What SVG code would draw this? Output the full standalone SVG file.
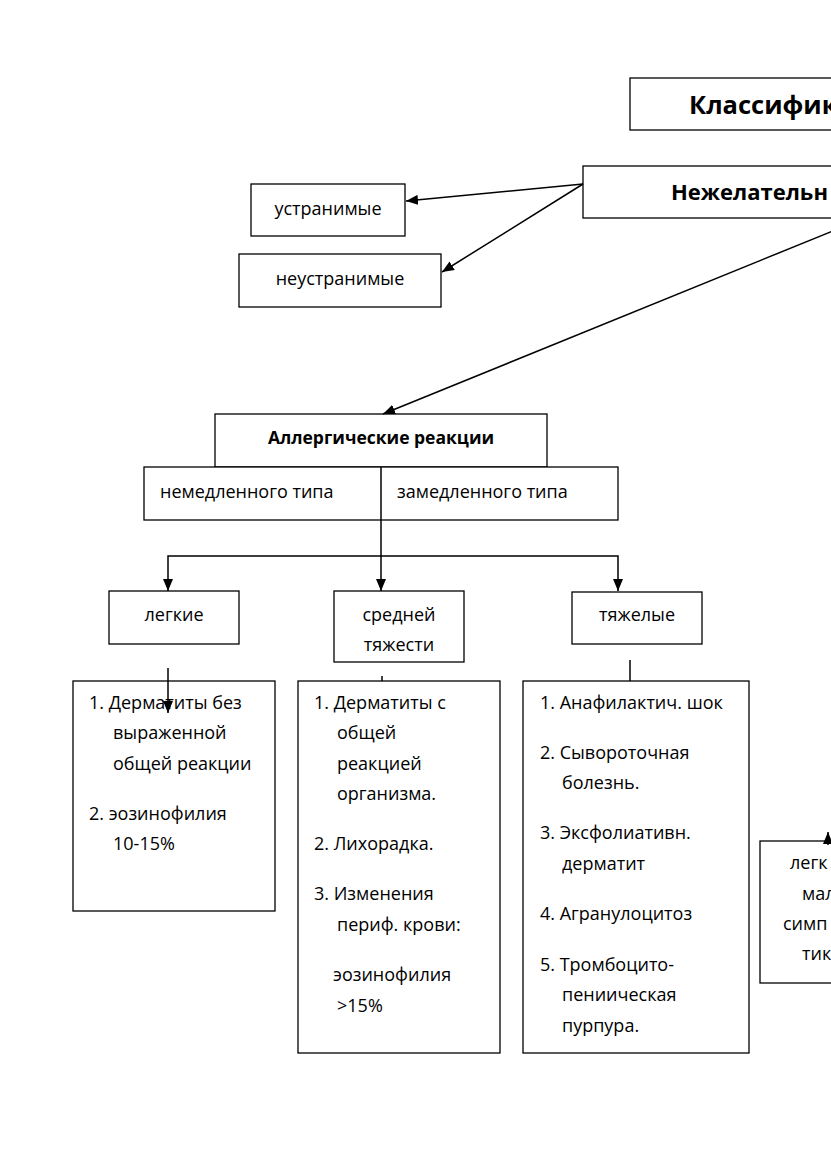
<svg xmlns="http://www.w3.org/2000/svg" width="831" height="1174" viewBox="0 0 831 1174">
<defs>
<marker id="ah" markerWidth="12" markerHeight="10" refX="12" refY="5" orient="auto" markerUnits="userSpaceOnUse">
<path d="M0,0 L12,5 L0,10 Z" fill="#000"/>
</marker>
<style>
rect{fill:#fff;stroke:#000;stroke-width:1.3}
text{font-family:"Open Sans","Noto Sans","Liberation Sans",sans-serif;font-size:18px;fill:#000}
.b{font-weight:bold}
.c{text-anchor:middle}
.cn line,.cn path{stroke:#000;stroke-width:1.5;fill:none}
</style>
</defs>
<rect width="831" height="1174" fill="#fff" style="stroke:none"/>
<g id="title"><rect x="630" y="78" width="400" height="52"/><text class="b" x="689" y="114" style="font-size:25.5px">Классифик</text></g>
<g id="nezh"><rect x="583" y="166" width="400" height="52"/><text class="b" x="671" y="200" style="font-size:22px">Нежелательн</text></g>
<g id="ustr"><rect x="251" y="184" width="154" height="52"/><text class="c" x="328" y="215">устранимые</text></g>
<g id="neustr"><rect x="239" y="254" width="202" height="53"/><text class="c" x="340" y="285">неустранимые</text></g>
<g id="allerg"><rect x="215" y="414" width="332" height="53"/><text class="b c" x="381" y="444" style="font-size:17.5px">Аллергические реакции</text></g>
<g id="types"><rect x="144" y="467" width="474" height="53"/><text x="160" y="498">немедленного типа</text><text x="397" y="498">замедленного типа</text></g>
<g id="legk"><rect x="109" y="591" width="130" height="53"/><text class="c" x="174" y="621">легкие</text></g>
<g id="sred"><rect x="334" y="591" width="130" height="71"/><text class="c" x="399" y="621">средней</text><text class="c" x="399" y="651">тяжести</text></g>
<g id="tyazh"><rect x="572" y="592" width="130" height="52"/><text class="c" x="637" y="621">тяжелые</text></g>
<g id="list1"><rect x="73" y="681" width="202" height="230"/>
<text x="89" y="709">1. Дерматиты без</text><text x="113" y="739">выраженной</text><text x="113" y="770">общей реакции</text>
<text x="89" y="820">2. эозинофилия</text><text x="113" y="850">10-15%</text></g>
<g id="list2"><rect x="298" y="681" width="202" height="372"/>
<text x="314" y="709">1. Дерматиты с</text><text x="337" y="739">общей</text><text x="337" y="770">реакцией</text><text x="337" y="800">организма.</text>
<text x="314" y="850">2. Лихорадка.</text>
<text x="314" y="900">3. Изменения</text><text x="337" y="931">периф. крови:</text>
<text x="333" y="981">эозинофилия</text><text x="337" y="1012">&gt;15%</text></g>
<g id="list3"><rect x="523" y="681" width="226" height="372"/>
<text x="540" y="709">1. Анафилактич. шок</text>
<text x="540" y="759">2. Сывороточная</text><text x="562" y="789">болезнь.</text>
<text x="540" y="839">3. Эксфолиативн.</text><text x="562" y="870">дерматит</text>
<text x="540" y="920">4. Агранулоцитоз</text>
<text x="540" y="971">5. Тромбоцито-</text><text x="562" y="1001">пениическая</text><text x="562" y="1032">пурпура.</text></g>
<g id="right"><rect x="760" y="841" width="200" height="142"/>
<text x="790" y="869">легк</text><text x="802" y="900">мал</text><text x="783" y="930">симп</text><text x="802" y="960">тик</text></g>
<g class="cn" id="connectors">
<line x1="583" y1="184" x2="406" y2="201" marker-end="url(#ah)"/>
<line x1="583" y1="184" x2="442" y2="272" marker-end="url(#ah)"/>
<line x1="845" y1="226" x2="383" y2="414" marker-end="url(#ah)"/>
<line x1="381" y1="467" x2="381" y2="591" marker-end="url(#ah)"/>
<path d="M381,556 H168 V591" marker-end="url(#ah)"/>
<path d="M381,556 H618 V591" marker-end="url(#ah)"/>
<line x1="168" y1="668" x2="168" y2="713" marker-end="url(#ah)"/>
<line x1="382" y1="676" x2="382" y2="681"/>
<line x1="630" y1="660" x2="630" y2="681"/>
<line x1="828" y1="845" x2="828" y2="832" marker-end="url(#ah)"/>
</g>
</svg>
